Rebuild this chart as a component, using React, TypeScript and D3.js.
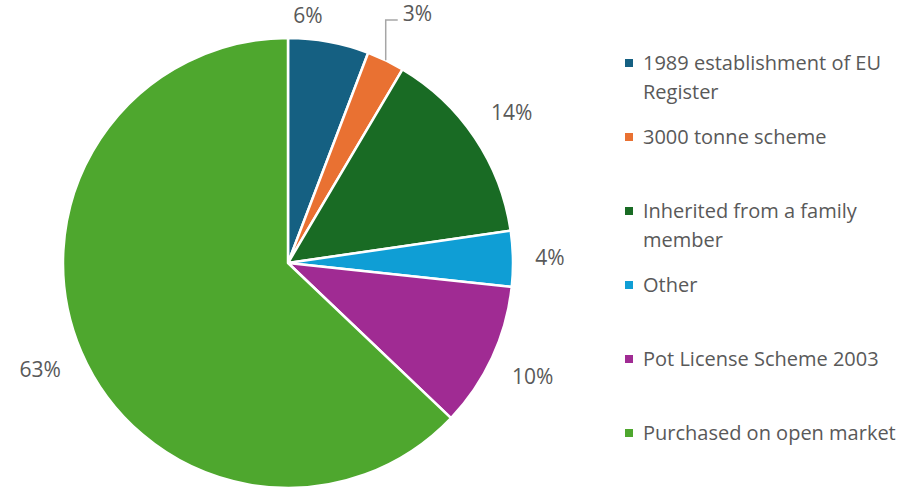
import React from "react";
import * as d3 from "d3";

const categories = [
  "1989 establishment of EU Register",
  "3000 tonne scheme",
  "Inherited from a family member",
  "Other",
  "Pot License Scheme 2003",
  "Purchased on open market",
];
const legendLines = [
  ["1989 establishment of EU", "Register"],
  ["3000 tonne scheme"],
  ["Inherited from a family", "member"],
  ["Other"],
  ["Pot License Scheme 2003"],
  ["Purchased on open market"],
];
const values = [5.8, 2.7, 14.2, 4.0, 10.4, 62.9];
const labels = ["6%", "3%", "14%", "4%", "10%", "63%"];
const colors = ["#156082", "#E97132", "#196B24", "#0F9ED5", "#A02B93", "#4EA72E"];

const W = 918, H = 488;
const cx = 288, cy = 263, R = 225;
const FONT = "'Open Sans', sans-serif";
const FS = 20;
const LFS = 21;
const TEXT = "#595959";
const labelAngleShift = [-6, 0, 0, 0, 0, 0]; // degrees
const leaderIdx = 1;

function measure(s: string) {
  const c = document.createElement("canvas").getContext("2d");
  if (!c) return s.length * LFS * 0.6;
  c.font = `${LFS}px 'Open Sans'`;
  return c.measureText(s).width;
}

export default function App() {
  const pie = d3.pie<number>().sort(null).value((d) => d)(values);
  const arc = d3.arc<d3.PieArcDatum<number>>().innerRadius(0).outerRadius(R);

  const legendY = d3.scaleLinear().domain([0, categories.length - 1]).range([63, 433]);

  return (
    <svg width={W} height={H} style={{ position: "absolute", left: 0, top: 0, background: "#fff" }}>
      <g transform={`translate(${cx},${cy})`}>
        {pie.map((p, i) => (
          <path key={i} d={arc(p) || ""} fill={colors[i]} stroke="#fff" strokeWidth={2.5} strokeLinejoin="round" />
        ))}
      </g>
      {pie.map((p, i) => {
        const mid = (p.startAngle + p.endAngle) / 2;
        if (i === leaderIdx) {
          const px = cx + R * Math.sin(mid);
          const py = cy - R * Math.cos(mid);
          const ly = 20;
          const hx = px + 12;
          return (
            <g key={i}>
              <path d={`M${px},${py}V${ly}H${hx}`} fill="none" stroke="#A6A6A6" strokeWidth={1.5} />
              <text x={hx + 5} y={ly - 6} dy="0.35em" fontFamily={FONT} fontSize={LFS} fill={TEXT}>
                {labels[i]}
              </text>
            </g>
          );
        }
        const a = mid + (labelAngleShift[i] * Math.PI) / 180;
        const w = measure(labels[i]);
        const h = LFS * 0.9;
        const d = (w / 2) * Math.abs(Math.sin(a)) + (h / 2) * Math.abs(Math.cos(a));
        const r = R + 22 + d;
        const x = cx + r * Math.sin(a);
        let y = cy - r * Math.cos(a);
        y = Math.max(y, 16);
        return (
          <text key={i} x={x} y={y} dy="0.35em" textAnchor="middle" fontFamily={FONT} fontSize={LFS} fill={TEXT}>
            {labels[i]}
          </text>
        );
      })}
      {categories.map((c, i) => {
        const y = legendY(i);
        return (
          <g key={c}>
            <rect x={625} y={y - 4} width={8} height={8} fill={colors[i]} />
            <text x={643} y={y} dy="0.35em" fontFamily={FONT} fontSize={FS} fill={TEXT}>
              {legendLines[i].map((ln, j) => (
                <tspan key={j} x={643} dy={j === 0 ? "0.35em" : 29}>
                  {ln}
                </tspan>
              ))}
            </text>
          </g>
        );
      })}
    </svg>
  );
}
